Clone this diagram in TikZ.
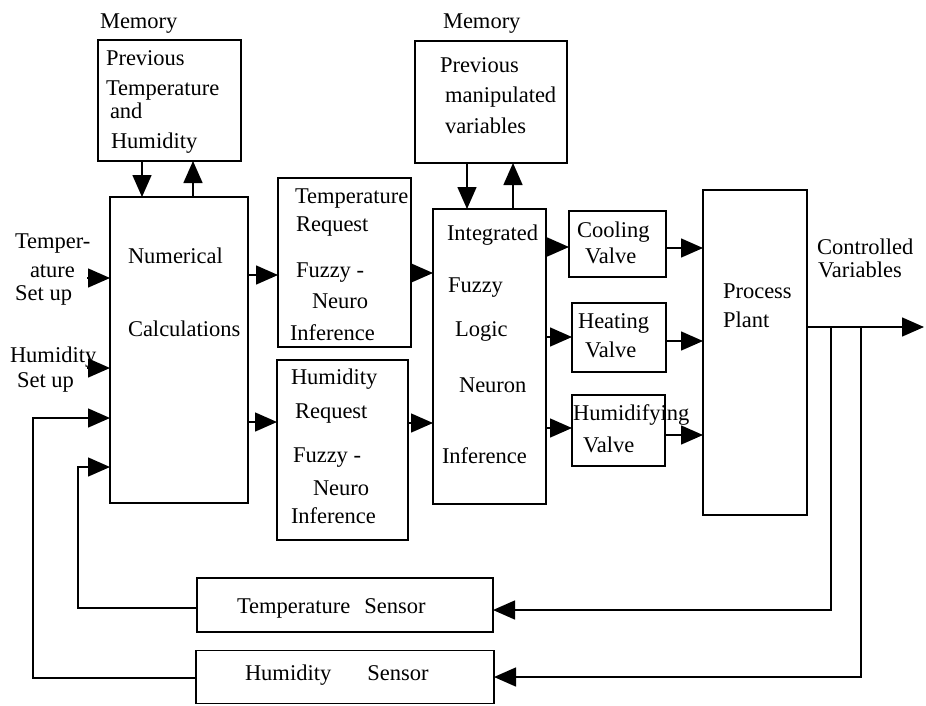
\documentclass[tikz,border=0pt]{standalone}
\usepackage{fontspec}
\setmainfont{Liberation Serif}
\usetikzlibrary{arrows.meta}
\tikzset{
  blk/.style={draw, line width=1.5pt, inner sep=0pt, outer sep=0pt},
  txt/.style={anchor=base west, inner sep=0pt, outer sep=0pt, font=\fontsize{22.5}{27}\selectfont},
  arr/.style={line width=1.5pt, -{Triangle[length=22pt,width=19pt]}},
  ln/.style={line width=1.5pt}
}
\begin{document}
\begin{tikzpicture}[x=1pt,y=-1pt]
\path[use as bounding box] (0,0) rectangle (926,705);
% boxes
\node[blk, minimum width=143pt, minimum height=121pt] (mem1) at (169.5,100.5) {};
\node[blk, minimum width=138pt, minimum height=306pt] (num) at (179,350) {};
\node[blk, minimum width=152pt, minimum height=122pt] (mem2) at (491,102) {};
\node[blk, minimum width=133pt, minimum height=169pt] (treq) at (344.5,262.5) {};
\node[blk, minimum width=131pt, minimum height=180pt] (hreq) at (342.5,450) {};
\node[blk, minimum width=113pt, minimum height=295pt] (integ) at (489.5,356.5) {};
\node[blk, minimum width=97pt, minimum height=66pt] (cool) at (617.5,244) {};
\node[blk, minimum width=94pt, minimum height=69pt] (heat) at (619,337.5) {};
\node[blk, minimum width=93pt, minimum height=71pt] (humv) at (618.5,430.5) {};
\node[blk, minimum width=104pt, minimum height=325pt] (plant) at (755,352.5) {};
\node[blk, minimum width=296pt, minimum height=54pt] (tsens) at (345,605) {};
\node[blk, minimum width=298pt, minimum height=53pt] (hsens) at (345,677) {};
% texts
\node[txt] (m1l) at (100,28) {Memory};
\node[txt] (m1a) at (106,65) {Previous};
\node[txt] (m1b) at (106,95) {Temperature};
\node[txt] (m1c) at (110,118) {and};
\node[txt] (m1d) at (111,148) {Humidity};
\node[txt] (m2l) at (443,28) {Memory};
\node[txt] (m2a) at (440,72) {Previous};
\node[txt] (m2b) at (445,102) {manipulated};
\node[txt] (m2c) at (445,133) {variables};
\node[txt] (nu1) at (128,263) {Numerical};
\node[txt] (nu2) at (128,336) {Calculations};
\node[txt] (tr1) at (295,203) {Temperature};
\node[txt] (tr2) at (296,231) {Request};
\node[txt] (tr3) at (296,277) {Fuzzy -};
\node[txt] (tr4) at (312,308) {Neuro};
\node[txt] (tr5) at (290,340) {Inference};
\node[txt] (hr1) at (291,384) {Humidity};
\node[txt] (hr2) at (295,418) {Request};
\node[txt] (hr3) at (293,462) {Fuzzy -};
\node[txt] (hr4) at (313,495) {Neuro};
\node[txt] (hr5) at (291,523) {Inference};
\node[txt] (in1) at (447,240) {Integrated};
\node[txt] (in2) at (448,292) {Fuzzy};
\node[txt] (in3) at (455,336) {Logic};
\node[txt] (in4) at (459,392) {Neuron};
\node[txt] (in5) at (442,463) {Inference};
\node[txt] (co1) at (577,237) {Cooling};
\node[txt] (co2) at (585,263) {Valve};
\node[txt] (he1) at (578,328) {Heating};
\node[txt] (he2) at (585,357) {Valve};
\node[txt] (hu1) at (573,420) {Humidifying};
\node[txt] (hu2) at (583,452) {Valve};
\node[txt] (pp1) at (723,298) {Process};
\node[txt] (pp2) at (723,327) {Plant};
\node[txt] (cv1) at (817,254) {Controlled};
\node[txt] (cv2) at (818,277) {Variables};
\node[txt] (ts1) at (15,248) {Temper-};
\node[txt] (ts2) at (30,277) {ature};
\node[txt] (ts3) at (15,300) {Set\hspace{6pt}up};
\node[txt] (hs1) at (10,362) {Humidity};
\node[txt] (hs2) at (17,387) {Set up};
\node[txt] (tsl) at (237,613) {Temperature\hspace{14pt}Sensor};
\node[txt] (hsl) at (245,680) {Humidity\hspace{36pt}Sensor};
% coordinates
\coordinate (tin) at (87,278);
\coordinate (hin) at (87,368);
\coordinate (out) at (924,327);
\coordinate (tap1) at (831,327);
\coordinate (tap2) at (861,327);
% connectors
\draw[arr] (mem1.south -| 142,0) -- (num.north -| 142,0);
\draw[arr] (num.north -| 193,0) -- (mem1.south -| 193,0);
\draw[arr] (mem2.south -| 467,0) -- (integ.north -| 467,0);
\draw[arr] (integ.north -| 513,0) -- (mem2.south -| 513,0);
\draw[arr] (tin) -- (num.west |- tin);
\draw[arr] (hin) -- (num.west |- hin);
\draw[arr] (num.east |- 0,275) -- (treq.west |- 0,275);
\draw[arr] (num.east |- 0,422) -- (hreq.west |- 0,422);
\draw[arr] (treq.east |- 0,273) -- (integ.west |- 0,273);
\draw[arr] (hreq.east |- 0,423) -- (integ.west |- 0,423);
\draw[arr] (integ.east |- 0,247) -- (cool.west |- 0,247);
\draw[arr] (integ.east |- 0,337) -- (heat.west |- 0,337);
\draw[arr] (integ.east |- 0,428) -- (humv.west |- 0,428);
\draw[arr] (cool.east |- 0,248) -- (plant.west |- 0,248);
\draw[arr] (heat.east |- 0,341) -- (plant.west |- 0,341);
\draw[arr] (humv.east |- 0,435) -- (plant.west |- 0,435);
\draw[arr] (plant.east |- out) -- (out);
\draw[arr] (tap1) |- (tsens.east |- 0,610);
\draw[arr] (tap2) |- (hsens.east |- 0,677);
\draw[arr] (tsens.west |- 0,608) -| (78,467) -- (num.west |- 0,467);
\draw[arr] (hsens.west |- 0,678) -| (33,418) -- (num.west |- 0,418);
\end{tikzpicture}
\end{document}
